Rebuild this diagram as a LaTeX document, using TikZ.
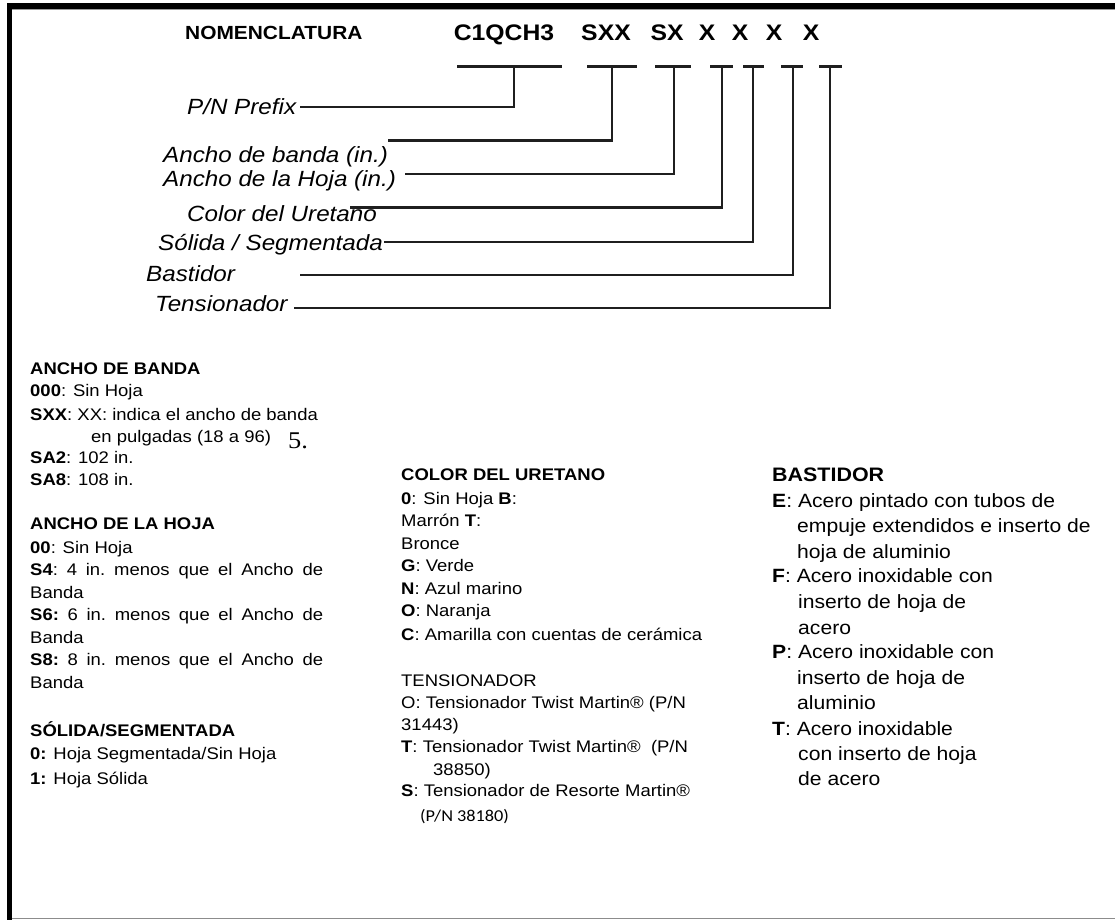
\documentclass[tikz,border=0pt]{standalone}
\usepackage{fontspec}
\setmainfont[FakeStretch=1.1]{Liberation Sans}
\newfontfamily\numserif[FakeStretch=1.1]{Liberation Serif}
\newfontfamily\calib[FakeStretch=1.1]{Carlito}
\begin{document}
\begin{tikzpicture}[x=1pt,y=-1pt,
  lbl/.style={font=\fontsize{22}{24}\selectfont\itshape, anchor=base west, inner sep=0pt},
  bone/.style={font=\fontsize{16.8}{20}\selectfont, anchor=base west, inner sep=0pt},
  bthree/.style={font=\fontsize{19.2}{23}\selectfont, anchor=base west, inner sep=0pt},
  codetxt/.style={font=\fontsize{22.5}{26}\selectfont\bfseries, anchor=base, inner sep=0pt},
  conn/.style={line width=2.2pt, black!88, line cap=butt},
  barline/.style={line width=2.6pt, black!88}]
\useasboundingbox (0,0) rectangle (1115,920);
% frame
\fill[black] (7,3.5) rectangle (1115,9);
\draw[black!40, line width=1pt] (11,9.8) -- (1115,9.8);
\fill[black] (7,3.5) rectangle (11.5,920);
\draw[black!45, line width=1.5pt] (11.5,918.6) -- (1115,918.6);

% title
\node[font=\fontsize{19}{22}\selectfont\bfseries, anchor=base west, inner sep=0pt] (title) at (185,40) {NOMENCLATURA};
\node[codetxt] (k1) at (504,41) {C1QCH3};
\node[codetxt] (k2) at (606,41) {SXX};
\node[codetxt] (k3) at (667,41) {SX};
\node[codetxt] (k4) at (707,41) {X};
\node[codetxt] (k5) at (740,41) {X};
\node[codetxt] (k6) at (774,41) {X};
\node[codetxt] (k7) at (811,41) {X};

% labels
\node[lbl] (l1) at (187,114.5) {P/N Prefix};
\node[lbl] (l2) at (163,163) {Ancho de banda (in.)};
\node[lbl] (l3) at (163,186) {Ancho de la Hoja (in.)};
\node[lbl] (l4) at (187,221) {Color del Uretano};
\node[lbl] (l5) at (158,250.5) {Sólida / Segmentada};
\node[lbl] (l6) at (146,281) {Bastidor};
\node[lbl] (l7) at (155,311) {Tensionador};

% connector coordinates
\coordinate (s1) at (300,107);   \coordinate (t1) at (514,66.5);
\coordinate (s2) at (388,140.5); \coordinate (t2) at (612,66.5);
\coordinate (s3) at (405,174);   \coordinate (t3) at (674,66.5);
\coordinate (s4) at (350,207.5); \coordinate (t4) at (722,66.5);
\coordinate (s5) at (384,242);   \coordinate (t5) at (753,66.5);
\coordinate (s6) at (300,275);   \coordinate (t6) at (793,66.5);
\coordinate (s7) at (294,308);   \coordinate (t7) at (830,66.5);
\coordinate (a1) at (457,66.5); \coordinate (b1) at (562,66.5);
\coordinate (a2) at (587,66.5); \coordinate (b2) at (637,66.5);
\coordinate (a3) at (655,66.5); \coordinate (b3) at (691,66.5);
\coordinate (a4) at (710,66.5); \coordinate (b4) at (733,66.5);
\coordinate (a5) at (743,66.5); \coordinate (b5) at (764,66.5);
\coordinate (a6) at (781,66.5); \coordinate (b6) at (803,66.5);
\coordinate (a7) at (819,66.5); \coordinate (b7) at (842,66.5);
\foreach \i in {1,...,7}{
  \draw[conn] (s\i) -| (t\i);
  \draw[barline] (a\i) -- (b\i);
}

% column 1
\node[bone] (c1h1) at (30,374) {\textbf{ANCHO DE BANDA}};
\node[bone] (c1a) at (30,396.7) {\textbf{000}: Sin Hoja};
\node[bone] (c1b) at (30,420) {\textbf{SXX}: XX: indica el ancho de banda};
\node[bone] (c1c) at (91,442.7) {en pulgadas (18 a 96)};
\node[anchor=base west, inner sep=0pt, font=\numserif\fontsize{24}{28}\selectfont] (c1n) at (288,448) {5.};
\node[bone] (c1d) at (30,463.3) {\textbf{SA2}: 102 in.};
\node[bone] (c1e) at (30,485) {\textbf{SA8}: 108 in.};
\node[bone] (c1h2) at (30,529.3) {\textbf{ANCHO DE LA HOJA}};
\node[bone] (c1f) at (30,553.3) {\textbf{00}: Sin Hoja};
\node[bone] (c1g) at (30,575) {\hbox to 293pt{\textbf{S4}:\hfill 4\hfill in.\hfill menos\hfill que\hfill el\hfill Ancho\hfill de}};
\node[bone] (c1h) at (30,598.3) {Banda};
\node[bone] (c1i) at (30,620) {\hbox to 293pt{\textbf{S6:}\hfill 6\hfill in.\hfill menos\hfill que\hfill el\hfill Ancho\hfill de}};
\node[bone] (c1j) at (30,643.3) {Banda};
\node[bone] (c1k) at (30,665.7) {\hbox to 293pt{\textbf{S8:}\hfill 8\hfill in.\hfill menos\hfill que\hfill el\hfill Ancho\hfill de}};
\node[bone] (c1l) at (30,688.3) {Banda};
\node[bone] (c1h3) at (30,736.7) {\textbf{SÓLIDA/SEGMENTADA}};
\node[bone] (c1m) at (30,759.3) {\textbf{0:} Hoja Segmentada/Sin Hoja};
\node[bone] (c1o) at (30,784.3) {\textbf{1:} Hoja Sólida};

% column 2
\node[bone] (c2h1) at (401,480) {\textbf{COLOR DEL URETANO}};
\node[bone] (c2a) at (401,504) {\textbf{0}: Sin Hoja \textbf{B}:};
\node[bone] (c2b) at (401,526.7) {Marrón \textbf{T}:};
\node[bone] (c2c) at (401,549.3) {Bronce};
\node[bone] (c2d) at (401,571.7) {\textbf{G}: Verde};
\node[bone] (c2e) at (401,594) {\textbf{N}: Azul marino};
\node[bone] (c2f) at (401,616.7) {\textbf{O}: Naranja};
\node[bone] (c2g) at (401,640) {\textbf{C}: Amarilla con cuentas de cerámica};
\node[bone] (c2h2) at (401,686) {TENSIONADOR};
\node[bone] (c2i) at (401,708.3) {O: Tensionador Twist Martin® (P/N};
\node[bone] (c2j) at (401,730) {31443)};
\node[bone] (c2k) at (401,752.7) {\textbf{T}: Tensionador Twist Martin®\ \ (P/N};
\node[bone] (c2l) at (433,775) {38850)};
\node[bone] (c2m) at (401,796.7) {\textbf{S}: Tensionador de Resorte Martin®};
\node[anchor=base west, inner sep=0pt, font=\calib\fontsize{16.6}{20}\selectfont] (c2n) at (420,821) {(P/N 38180)};

% column 3
\node[anchor=base west, inner sep=0pt, font=\fontsize{19.5}{23}\selectfont\bfseries] (c3h) at (772,481) {BASTIDOR};
\node[bthree] (c3a) at (772,507.3) {\textbf{E}: Acero pintado con tubos de};
\node[bthree] (c3b) at (797,532.3) {empuje extendidos e inserto de};
\node[bthree] (c3c) at (797,558) {hoja de aluminio};
\node[bthree] (c3d) at (772,582.3) {\textbf{F}: Acero inoxidable con};
\node[bthree] (c3e) at (798,608.3) {inserto de hoja de};
\node[bthree] (c3f) at (798,634) {acero};
\node[bthree] (c3g) at (772,658.3) {\textbf{P}: Acero inoxidable con};
\node[bthree] (c3i) at (797,684) {inserto de hoja de};
\node[bthree] (c3j) at (797,709.7) {aluminio};
\node[bthree] (c3k) at (772,735) {\textbf{T}: Acero inoxidable};
\node[bthree] (c3l) at (798,760.7) {con inserto de hoja};
\node[bthree] (c3m) at (798,785.7) {de acero};
\end{tikzpicture}
\end{document}
